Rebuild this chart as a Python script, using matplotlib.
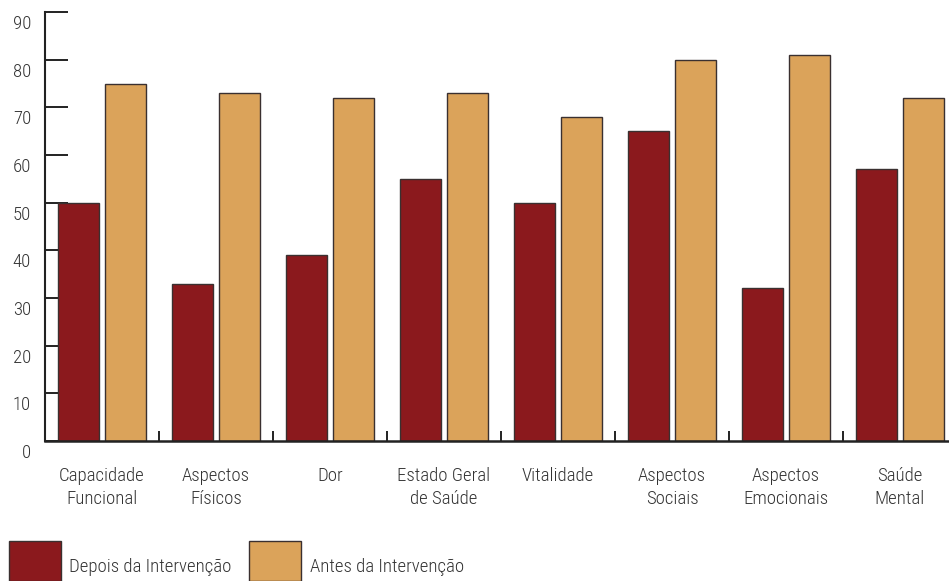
import matplotlib
matplotlib.use("Agg")
import matplotlib.pyplot as plt
import matplotlib.transforms as mtransforms
from matplotlib.patches import Rectangle
import numpy as np

categories = ["Capacidade\nFuncional", "Aspectos\nFísicos", "Dor", "Estado Geral\nde Saúde",
              "Vitalidade", "Aspectos\nSociais", "Aspectos\nEmocionais", "Saúde\nMental"]
depois = [50, 33, 39, 55, 50, 65, 32, 57]
antes = [75, 73, 72, 73, 68, 80, 81, 72]
yticks = [0, 10, 20, 30, 40, 50, 60, 70, 80, 90]
series_names = ["Depois da Intervenção", "Antes da Intervenção"]

c_depois = "#8B191D"
c_antes = "#DBA35A"
edge = "#3a3030"
txt = "#333333"
font = ["Roboto Condensed", "Archivo Narrow", "DejaVu Sans"]
plt.rcParams['font.family'] = font
plt.rcParams['font.weight'] = 'light'

W, H = 949, 581
fig = plt.figure(figsize=(W / 100, H / 100), dpi=100)
ax = fig.add_axes([45 / W, 1 - 441 / H, 1 - 45 / W, (441 - 12) / H])

x = np.arange(len(categories)) + 0.5
bw = 0.36
ax.bar(x - 0.203, depois, width=bw, color=c_depois, edgecolor=edge, linewidth=1.0, zorder=2)
ax.bar(x + 0.203, antes, width=bw, color=c_antes, edgecolor=edge, linewidth=1.0, zorder=2)

ax.set_xlim(0, (W - 45) / 114)
ax.set_ylim(0, 90)

for s in ["top", "right"]:
    ax.spines[s].set_visible(False)
ax.spines["left"].set_linewidth(1.5)
ax.spines["bottom"].set_linewidth(1.8)
ax.spines["left"].set_color("#222222")
ax.spines["bottom"].set_color("#222222")

ax.set_yticks(yticks)
ax.set_yticklabels([str(v) for v in yticks])
ax.tick_params(axis="y", direction="in", length=16.5, width=1.4, color="#222222",
               labelsize=13.5, labelcolor=txt, pad=10)
offset = mtransforms.ScaledTranslation(0, -10 / 100, fig.dpi_scale_trans)
for lbl in ax.get_yticklabels():
    lbl.set_transform(lbl.get_transform() + offset)

ax.set_xticks(x)
ax.set_xticklabels(categories)
ax.tick_params(axis="x", which="major", length=0, labelsize=13.5, labelcolor=txt, pad=19)
for lbl in ax.get_xticklabels():
    lbl.set_linespacing(1.35)
    lbl.set_va("top")
ax.set_xticks(np.arange(1, len(categories)), minor=True)
ax.tick_params(axis="x", which="minor", direction="in", length=7.5, width=1.4, color="#222222")

# legend
for lx, tx, col, name in [(9, 69, c_depois, series_names[0]), (249, 310, c_antes, series_names[1])]:
    fig.patches.append(Rectangle((lx / W, 0), 52 / W, 40 / H, transform=fig.transFigure,
                                 facecolor=col, edgecolor=edge, linewidth=1.0))
    fig.text(tx / W, 1 - 567 / H, name, fontsize=13.5, color=txt, va="center", ha="left")

fig.savefig("out.png", dpi=100)
